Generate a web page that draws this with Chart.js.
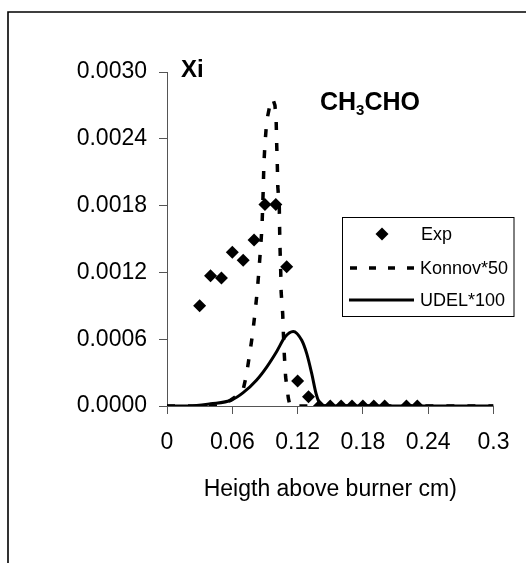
<!DOCTYPE html>
<html>
<head>
<meta charset="utf-8">
<script src="https://cdn.jsdelivr.net/npm/chart.js@4/dist/chart.umd.min.js"></script>
<style>
  html, body { margin: 0; padding: 0; background: #fff; }
  #wrap { width: 526px; height: 563px; }
</style>
</head>
<body>
<div id="wrap"><canvas id="c" width="526" height="563"></canvas></div>
<script>
// ---- Data ----
const expX = [0.03, 0.04, 0.05, 0.06, 0.07, 0.08, 0.09, 0.10, 0.11, 0.12, 0.13, 0.14, 0.15, 0.16, 0.17, 0.18, 0.19, 0.20, 0.22, 0.23];
const expY = [0.00090, 0.00117, 0.00115, 0.00138, 0.00131, 0.00149, 0.00181, 0.00181, 0.00125, 0.000225, 0.000084, 0, 0, 0, 0, 0, 0, 0, 0, 0];

const konnovX = [0, 0.05, 0.058, 0.0696, 0.073, 0.076, 0.0787, 0.081, 0.083, 0.0845, 0.086, 0.0873, 0.0885, 0.089, 0.090, 0.0916, 0.0945, 0.0972, 0.0992, 0.1003, 0.1008, 0.1014, 0.1018, 0.1032, 0.1035, 0.1039, 0.1045, 0.1049, 0.1063, 0.107, 0.1078, 0.109, 0.1115, 0.113, 0.3];
const konnovY = [0, 0, 0.00005, 0.00013, 0.00028, 0.00047, 0.00065, 0.00085, 0.00104, 0.00122, 0.00142, 0.00161, 0.00197, 0.00217, 0.00235, 0.00256, 0.00270, 0.00276, 0.00270, 0.00256, 0.00235, 0.00215, 0.00197, 0.00178, 0.00158, 0.00140, 0.00121, 0.00102, 0.00083, 0.00064, 0.00046, 0.00026, 0.00007, 0, 0];

const udelX = [0, 0.02, 0.04, 0.0594, 0.070, 0.0824, 0.0916, 0.1008, 0.1084, 0.116, 0.1238, 0.1284, 0.133, 0.137, 0.1406, 0.145, 0.3];
const udelY = [0, 0, 0.00002, 0.000054, 0.00012, 0.000234, 0.00035, 0.00049, 0.00062, 0.00067, 0.00059, 0.00047, 0.00029, 0.00011, 0.00002, 0, 0];

const xTicks = [0, 0.06, 0.12, 0.18, 0.24, 0.3];
const xTickLabels = ['0', '0.06', '0.12', '0.18', '0.24', '0.3'];
const yTicks = [0, 0.0006, 0.0012, 0.0018, 0.0024, 0.0030];
const yTickLabels = ['0.0000', '0.0006', '0.0012', '0.0018', '0.0024', '0.0030'];

const seriesNames = ['Exp', 'Konnov*50', 'UDEL*100'];
const xTitle = 'Heigth above burner cm)';

const FONT = "'Liberation Sans', Arial, sans-serif";
Chart.defaults.font.family = FONT;
Chart.defaults.color = '#000';

const toPts = (xs, ys) => xs.map((x, i) => ({ x: x, y: ys[i] }));

// frame, annotations and legend
const decor = {
  id: 'decor',
  beforeDraw(chart) {
    const ctx = chart.ctx;
    ctx.save();
    ctx.fillStyle = '#fff';
    ctx.fillRect(0, 0, chart.width, chart.height);
    ctx.strokeStyle = '#000';
    ctx.lineWidth = 1.6;
    ctx.beginPath();
    ctx.moveTo(8, chart.height + 2);
    ctx.lineTo(8, 12);
    ctx.lineTo(chart.width + 2, 12);
    ctx.stroke();
    ctx.restore();
  },
  afterDraw(chart) {
    const ctx = chart.ctx;
    ctx.save();
    ctx.fillStyle = '#000';
    ctx.textBaseline = 'alphabetic';
    ctx.textAlign = 'left';
    // Xi
    ctx.font = "bold 24px " + FONT;
    ctx.fillText('Xi', 181, 77);
    // CH3CHO
    let x = 320;
    ctx.font = "bold 25px " + FONT;
    ctx.fillText('CH', x, 110);
    x += ctx.measureText('CH').width;
    ctx.font = "bold 15px " + FONT;
    ctx.fillText('3', x, 115);
    x += ctx.measureText('3').width;
    ctx.font = "bold 25px " + FONT;
    ctx.fillText('CHO', x, 110);

    // legend
    ctx.strokeStyle = '#000';
    ctx.lineWidth = 1;
    ctx.strokeRect(342.5, 217.5, 171.5, 99);
    const ds = chart.data.datasets;
    const rows = [234, 268, 300];
    ctx.font = "18px " + FONT;
    ctx.textBaseline = 'middle';
    // Exp marker
    ctx.beginPath();
    const r = 6.5, cx = 382, cy = rows[0];
    ctx.moveTo(cx - r, cy); ctx.lineTo(cx, cy - r); ctx.lineTo(cx + r, cy); ctx.lineTo(cx, cy + r); ctx.closePath();
    ctx.fill();
    ctx.fillText(ds[0].label, 421, rows[0] + 1);
    // Konnov
    ctx.lineWidth = 3.5;
    ctx.setLineDash([7, 12]);
    ctx.beginPath(); ctx.moveTo(350, rows[1]); ctx.lineTo(416, rows[1]); ctx.stroke();
    ctx.fillText(ds[1].label, 420, rows[1] + 1);
    // UDEL
    ctx.setLineDash([]);
    ctx.lineWidth = 3;
    ctx.beginPath(); ctx.moveTo(349, rows[2]); ctx.lineTo(414, rows[2]); ctx.stroke();
    ctx.fillText(ds[2].label, 420, rows[2] + 1);
    ctx.restore();
  }
};

new Chart(document.getElementById('c'), {
  type: 'scatter',
  data: {
    datasets: [
      {
        label: seriesNames[0],
        data: toPts(expX, expY),
        showLine: false,
        pointStyle: 'rectRot',
        pointRadius: 6.5,
        pointBackgroundColor: '#000',
        pointBorderColor: '#000',
        pointBorderWidth: 0
      },
      {
        label: seriesNames[1],
        data: toPts(konnovX, konnovY),
        showLine: true,
        borderColor: '#000',
        borderWidth: 3.5,
        borderDash: [8, 13],
        pointRadius: 0,
        tension: 0
      },
      {
        label: seriesNames[2],
        data: toPts(udelX, udelY),
        showLine: true,
        borderColor: '#000',
        borderWidth: 3,
        pointRadius: 0,
        cubicInterpolationMode: 'monotone'
      }
    ]
  },
  options: {
    responsive: false,
    devicePixelRatio: 1,
    animation: false,
    events: [],
    layout: { padding: { left: 0, top: 72, right: 32.5, bottom: 0 } },
    plugins: { legend: { display: false }, tooltip: { enabled: false }, title: { display: false } },
    scales: {
      x: {
        type: 'linear',
        min: 0, max: 0.3,
        afterBuildTicks: (s) => { s.ticks = xTicks.map(v => ({ value: v })); },
        afterFit: (s) => { s.height = 157; },
        ticks: {
          font: { size: 23 },
          padding: 15,
          maxRotation: 0,
          autoSkip: false,
          callback: (v, i) => xTickLabels[i]
        },
        grid: { drawOnChartArea: false, drawTicks: true, tickLength: 8, color: '#555', lineWidth: 1 },
        border: { display: true, color: '#555', width: 1 },
        title: { display: true, text: xTitle, font: { size: 23 }, padding: { top: 0, bottom: 60 } }
      },
      y: {
        type: 'linear',
        min: 0, max: 0.003,
        afterBuildTicks: (s) => { s.ticks = yTicks.map(v => ({ value: v })); },
        afterFit: (s) => { s.width = 167; },
        ticks: {
          font: { size: 23 },
          padding: 12,
          autoSkip: false,
          callback: (v, i) => yTickLabels[i]
        },
        grid: { drawOnChartArea: false, drawTicks: true, tickLength: 8, color: '#555', lineWidth: 1 },
        border: { display: true, color: '#555', width: 1 }
      }
    }
  },
  plugins: [decor]
});
</script>
</body>
</html>
